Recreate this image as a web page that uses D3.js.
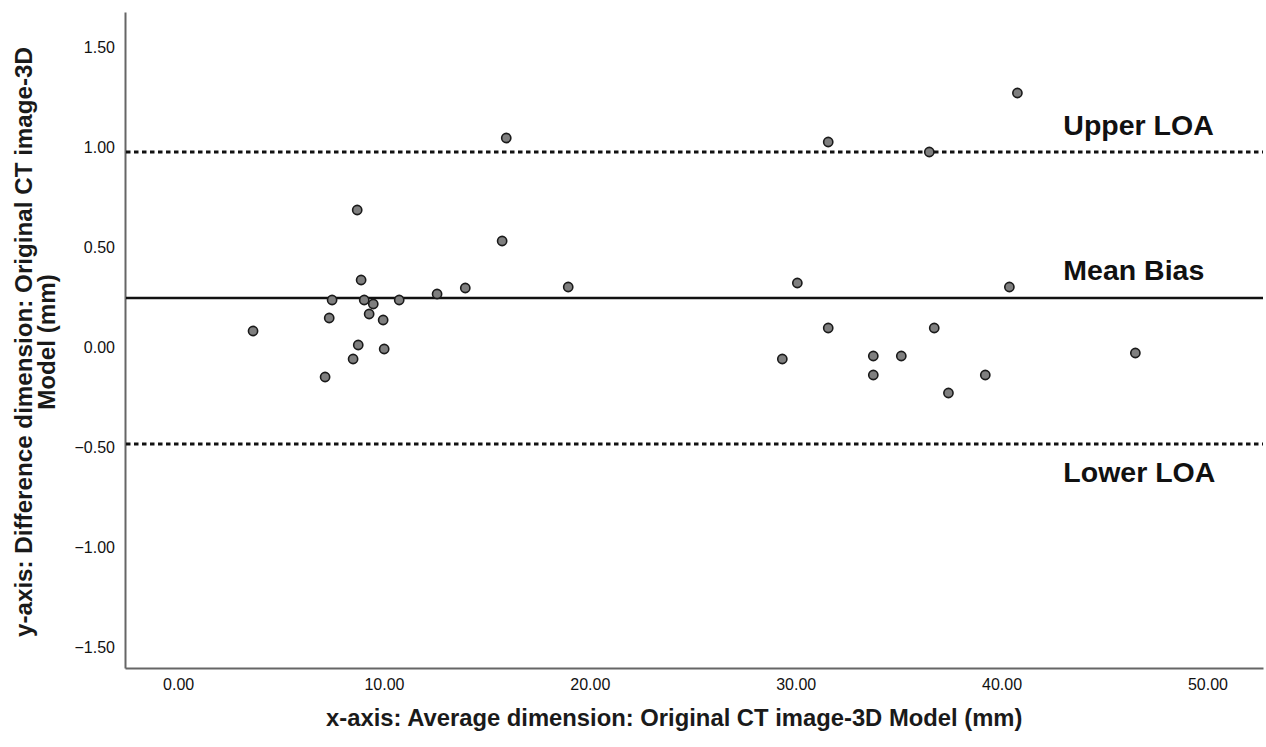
<!DOCTYPE html>
<html>
<head>
<meta charset="utf-8">
<script src="https://cdn.jsdelivr.net/npm/d3@7"></script>
<style>
  html, body { margin: 0; padding: 0; background: #fff; overflow: hidden; }
  svg { display: block; }
  text { font-family: "Liberation Sans", Arial, sans-serif; }
</style>
</head>
<body>
<div id="chart"></div>
<script>
// average dimension (x) and difference (y) for each measurement
var avgDim = [3.64, 7.14, 7.34, 7.48, 8.70, 8.50, 8.75, 8.89, 9.04, 9.28, 9.48, 9.96, 10.01,
  10.74, 12.58, 13.95, 15.74, 15.94, 18.95, 29.35, 30.08, 31.58, 31.58, 33.77, 33.77,
  35.13, 36.49, 36.73, 37.42, 39.21, 40.38, 40.77, 46.50];
var diffDim = [0.08, -0.15, 0.145, 0.235, 0.685, -0.06, 0.01, 0.335, 0.235, 0.165, 0.215, 0.135, -0.01,
  0.235, 0.265, 0.295, 0.53, 1.045, 0.30, -0.06, 0.32, 1.025, 0.095, -0.045, -0.14,
  -0.045, 0.975, 0.095, -0.23, -0.14, 0.30, 1.27, -0.03];

var xTicks = [0, 10, 20, 30, 40, 50];
var yTicks = [-1.5, -1.0, -0.5, 0, 0.5, 1.0, 1.5];

var refNames = ["Upper LOA", "Mean Bias", "Lower LOA"];
var refValues = [0.975, 0.245, -0.485];
var refDashed = [true, false, true];

var width = 1266, height = 747;
var margin = { top: 12, right: 3, bottom: 79, left: 125 };
var innerWidth = width - margin.left - margin.right;
var innerHeight = height - margin.top - margin.bottom;

var svg = d3.select("#chart")
  .append("svg")
  .attr("width", width)
  .attr("height", height);

var g = svg.append("g")
  .attr("transform", "translate(" + margin.left + "," + margin.top + ")");

var xScale = d3.scaleLinear().domain([-2.58, 52.7]).range([0, innerWidth]);
var yScale = d3.scaleLinear().domain([-1.605, 1.675]).range([innerHeight, 0]);

// axes (no tick marks, just labels)
var xAxis = g.append("g")
  .attr("transform", "translate(0," + innerHeight + ")")
  .call(d3.axisBottom(xScale).tickValues(xTicks).tickSize(0).tickPadding(11).tickFormat(d3.format(".2f")));

var yAxis = g.append("g")
  .call(d3.axisLeft(yScale).tickValues(yTicks).tickSize(0).tickPadding(10).tickFormat(d3.format(".2f")));

[xAxis, yAxis].forEach(function (ax) {
  ax.select(".domain").attr("stroke", "#666").attr("stroke-width", 2);
  ax.selectAll("text").attr("font-size", 16).attr("fill", "#111")
    .style("font-family", "'Liberation Sans', Arial, sans-serif");
});

// reference lines
g.append("g")
  .selectAll("line")
  .data(refValues)
  .join("line")
  .attr("x1", 1)
  .attr("x2", innerWidth)
  .attr("y1", function (d) { return yScale(d); })
  .attr("y2", function (d) { return yScale(d); })
  .attr("stroke", "#111")
  .attr("stroke-width", function (d, i) { return refDashed[i] ? 3 : 2.5; })
  .attr("stroke-dasharray", function (d, i) { return refDashed[i] ? "4.5,3.5" : null; });

// labels for the reference lines
var labelOffsets = [-17, -18, 38];
g.append("g")
  .selectAll("text")
  .data(refNames)
  .join("text")
  .attr("x", xScale(43))
  .attr("y", function (d, i) { return yScale(refValues[i]) + labelOffsets[i]; })
  .attr("font-size", 28.5)
  .attr("font-weight", "bold")
  .attr("fill", "#111")
  .text(function (d) { return d; });

// points
g.append("g")
  .selectAll("circle")
  .data(avgDim)
  .join("circle")
  .attr("cx", function (d) { return xScale(d); })
  .attr("cy", function (d, i) { return yScale(diffDim[i]); })
  .attr("r", 4.6)
  .attr("fill", "#7f7f7f")
  .attr("stroke", "#1a1a1a")
  .attr("stroke-width", 1.6);

// axis titles
svg.append("text")
  .attr("x", margin.left + xScale(24.1))
  .attr("y", 726)
  .attr("text-anchor", "middle")
  .attr("font-size", 23.8)
  .attr("font-weight", "bold")
  .attr("fill", "#1a1a1a")
  .text("x-axis: Average dimension: Original CT image-3D Model (mm)");

var yTitle = svg.append("text")
  .attr("transform", "translate(32," + 342 + ") rotate(-90)")
  .attr("text-anchor", "middle")
  .attr("font-size", 24.2)
  .attr("font-weight", "bold")
  .attr("fill", "#1a1a1a");
yTitle.append("tspan").attr("x", 0).attr("dy", 0).text("y-axis: Difference dimension: Original CT image-3D");
yTitle.append("tspan").attr("x", 0).attr("dy", 23).text("Model (mm)");
</script>
</body>
</html>
